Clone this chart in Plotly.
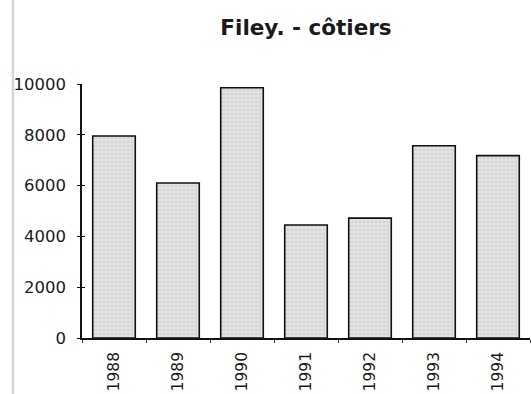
import plotly.graph_objects as go

years = ["1988", "1989", "1990", "1991", "1992", "1993", "1994"]
values = [7950, 6100, 9850, 4450, 4720, 7570, 7180]
y_ticks = [0, 2000, 4000, 6000, 8000, 10000]
title_text = "Filey. - côtiers"

W, H = 531, 394
L, R, T, B = 82, 1, 84, 56
plot_h = H - T - B
plot_w = W - L - R

fig = go.Figure()
fig.add_trace(go.Bar(
    x=years, y=values,
    marker=dict(
        color="#dedede",
        line=dict(color="#111111", width=1.6),
        pattern=dict(shape=".", fgcolor="#c2c2c2", bgcolor="#e2e2e2", size=4, solidity=0.35),
    ),
    showlegend=False,
))

fig.update_layout(
    width=W, height=H,
    margin=dict(l=L, r=R, t=T, b=B, autoexpand=False),
    paper_bgcolor="white", plot_bgcolor="white",
    bargap=0.335,
    title=dict(text=title_text, x=0.5, xref="paper", xanchor="center",
               y=1 - 27 / H, yanchor="middle",
               font=dict(family="DejaVu Sans", size=21.5, color="#1a1a1a", weight="bold")),
    font=dict(family="DejaVu Sans", color="#1a1a1a"),
    xaxis=dict(
        showline=True, linecolor="#111111", linewidth=1.6,
        ticks="outside", tickson="boundaries", ticklen=3, tickcolor="#333333", tickwidth=1,
        tickangle=-90, tickfont=dict(family="DejaVu Sans", size=15.5, color="#1a1a1a"),
        showgrid=False, zeroline=False, automargin=False, ticklabelstandoff=6,
    ),
    yaxis=dict(
        range=[0, 10000], tickvals=y_ticks, ticktext=[str(v) for v in y_ticks],
        showline=True, linecolor="#111111", linewidth=1.6,
        ticks="outside", ticklen=3, tickcolor="#111111", tickwidth=1.2,
        tickfont=dict(family="DejaVu Sans", size=16.5, color="#1a1a1a"),
        showgrid=False, zeroline=False, ticklabelstandoff=8, automargin=False,
    ),
    yaxis2=dict(
        range=[0, 10000], tickvals=y_ticks, overlaying="y", side="left",
        showticklabels=False, ticks="inside", ticklen=3, tickcolor="#111111", tickwidth=1.2,
        showline=False, showgrid=False, zeroline=False,
    ),
)
# invisible trace to activate the second y axis (crossing tick marks)
fig.add_trace(go.Scatter(x=[years[0]], y=[0], yaxis="y2", mode="markers",
                         marker=dict(opacity=0), showlegend=False, hoverinfo="skip"))

# light grey page border line at left
fig.add_shape(type="line", xref="paper", yref="paper",
              x0=(13 - L) / plot_w, x1=(13 - L) / plot_w,
              y0=-B / plot_h, y1=(H - B) / plot_h,
              line=dict(color="#d4d4d4", width=2.5), layer="above")

fig.write_html(
    "out.html",
    config={"displayModeBar": False},
    post_script="document.body.style.margin='0';document.body.style.padding='0';document.body.style.overflow='hidden';",
)
